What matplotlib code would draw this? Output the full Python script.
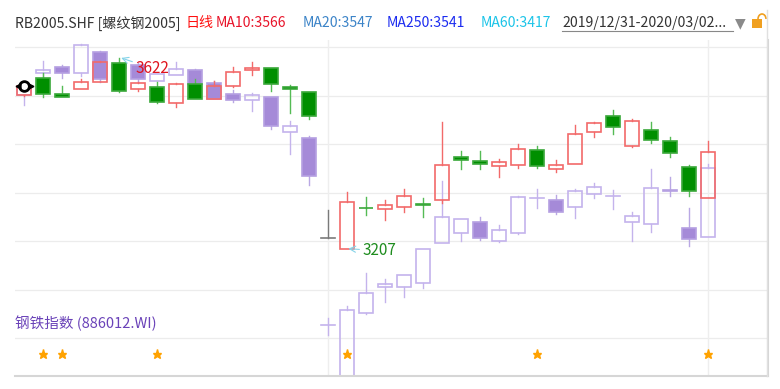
import numpy as np
import matplotlib.pyplot as plt
from matplotlib.patches import Rectangle, Arc
from matplotlib.lines import Line2D

plt.rcParams['font.family'] = ['Noto Sans CJK SC', 'DejaVu Sans']

# RB2005.SHF daily candles, 2019/12/31 - 2020/03/02
rb_open = [3541.5, 3578.5, 3543.0, 3553.9, 3569.1, 3611.8, 3555.2, 3559.5, 3524.1, 3564.8,
           3532.8, 3561.1, 3595.2, 3599.6, 3559.5, 3547.4, 3231.0, 3207.0, 3295.5, 3294.1,
           3297.1, 3304.0, 3313.0, 3405.9, 3397.2, 3387.6, 3389.8, 3421.8, 3381.1, 3391.3,
           3461.0, 3495.8, 3430.5, 3466.0, 3440.7, 3384.2, 3318.0]
rb_high = [3565.4, 3589.4, 3561.7, 3575.6, 3615.5, 3622.0, 3570.4, 3570.4, 3567.6, 3575.6,
           3571.9, 3603.1, 3612.6, 3599.6, 3563.2, 3548.0, 3291.2, 3329.8, 3320.2, 3313.0,
           3336.3, 3318.0, 3483.4, 3419.6, 3419.6, 3401.6, 3434.2, 3430.5, 3400.0, 3476.2,
           3483.4, 3508.8, 3488.6, 3483.4, 3450.7, 3389.2, 3441.4]
rb_low = [3540.0, 3537.8, 3537.0, 3553.9, 3569.1, 3547.0, 3550.8, 3525.0, 3516.0, 3532.8,
          3532.8, 3558.2, 3585.7, 3550.8, 3503.0, 3488.6, 3231.0, 3207.0, 3280.4, 3269.5,
          3287.5, 3276.7, 3306.5, 3379.8, 3381.1, 3362.4, 3383.3, 3383.3, 3373.3, 3391.3,
          3450.7, 3456.0, 3429.0, 3437.7, 3405.9, 3322.4, 3318.0]
rb_close = [3561.1, 3543.0, 3538.0, 3569.1, 3612.6, 3549.0, 3566.9, 3526.2, 3566.1, 3532.8,
            3561.1, 3590.9, 3600.2, 3566.1, 3553.9, 3495.8, 3231.0, 3308.6, 3294.5, 3301.5,
            3321.1, 3303.0, 3388.5, 3400.0, 3392.0, 3395.7, 3423.3, 3386.3, 3389.8, 3456.0,
            3479.9, 3471.8, 3484.2, 3442.9, 3415.9, 3332.6, 3418.1]

# 钢铁指数 (886012.WI) overlay, read on the main chart's vertical scale
idx_open = [3541.5, 3588.7, 3601.8, 3588.7, 3635.0, 3606.8, 3606.8, 3571.3, 3585.0, 3595.9,
            3568.2, 3543.7, 3529.9, 3536.5, 3460.3, 3448.6, 3041.0, 2877.8, 3066.5, 3124.3,
            3123.0, 3131.7, 3218.8, 3241.8, 3264.5, 3224.4, 3240.5, 3316.7, 3312.3, 3297.1,
            3325.4, 3321.1, 3264.5, 3260.1, 3334.1, 3251.4, 3233.1]
idx_high = [3561.1, 3616.1, 3606.8, 3652.0, 3637.2, 3611.1, 3611.1, 3587.2, 3614.0, 3598.1,
            3571.9, 3552.4, 3545.8, 3537.1, 3484.9, 3452.3, 3056.9, 3082.3, 3154.8, 3141.1,
            3149.1, 3207.0, 3354.3, 3271.0, 3276.7, 3258.6, 3321.7, 3336.3, 3323.9, 3336.9,
            3350.6, 3334.8, 3287.5, 3380.5, 3362.4, 3294.9, 3391.3]
idx_low = [3519.7, 3581.3, 3578.5, 3582.8, 3569.1, 3595.9, 3570.4, 3571.3, 3585.0, 3564.0,
           3532.8, 3526.9, 3506.7, 3466.8, 3412.4, 3345.6, 3019.2, 2856.0, 3065.0, 3091.7,
           3102.6, 3120.9, 3218.8, 3223.8, 3226.0, 3221.6, 3239.0, 3294.9, 3282.5, 3274.5,
           3316.7, 3294.1, 3224.4, 3242.7, 3322.4, 3213.6, 3233.1]
idx_close = [3558.0, 3595.9, 3590.0, 3651.0, 3575.6, 3600.2, 3575.6, 3586.5, 3597.4, 3565.5,
             3533.5, 3530.6, 3540.8, 3473.4, 3473.4, 3365.2, 3041.0, 3073.6, 3111.3, 3130.2,
             3149.1, 3207.0, 3275.4, 3271.0, 3229.7, 3247.7, 3318.9, 3316.7, 3287.5, 3333.2,
             3340.6, 3321.1, 3278.8, 3339.8, 3331.9, 3227.5, 3383.3]

star_days = [1, 2, 7, 17, 27, 36]
month_lines = [16, 36]


def candles(ax, o, h, l, c, up_edge, up_wick, dn_face, dn_edge, dn_wick, doji_col, z, w=0.75):
    for i in range(len(o)):
        op, hi, lo, cl = o[i], h[i], l[i], c[i]
        top, bot = max(op, cl), min(op, cl)
        if op == cl:
            ax.plot([i, i], [lo, hi], color=doji_col, lw=1, zorder=z)
            ax.plot([i - w / 2, i + w / 2], [op, op], color=doji_col, lw=1.2, zorder=z)
            continue
        if cl > op:
            wick, face, edge = up_wick, 'none', up_edge
        else:
            wick, face, edge = dn_wick, dn_face, dn_edge
        if hi > top:
            ax.plot([i, i], [top, hi], color=wick, lw=1, zorder=z)
        if lo < bot:
            ax.plot([i, i], [lo, bot], color=wick, lw=1, zorder=z)
        ax.add_patch(Rectangle((i - w / 2, bot), w, top - bot, facecolor=face,
                               edgecolor=edge, lw=1.2, zorder=z + 0.5))


fig = plt.figure(figsize=(7.8, 3.89), dpi=100)
ax = fig.add_axes([15 / 780, 13 / 389, 753 / 780, 336 / 389])
ylo, yhi = 2930, 3661
ax.set_xlim(-0.49, 39.14)
ax.set_ylim(ylo, yhi)

# light grid: 7 horizontal lines, month separators
for k in range(7):
    ax.axhline(ylo + (yhi - ylo) * (38 + 48.5 * k) / 336, color='#ececec', lw=0.9, zorder=0)
for m in month_lines:
    ax.axvline(m, color='#eeeeee', lw=1, zorder=0)

candles(ax, idx_open, idx_high, idx_low, idx_close,
        up_edge='#c4b3ec', up_wick='#c4b3ec', dn_face='#a58ad8', dn_edge='#b5a0e2',
        dn_wick='#b9a8e4', doji_col='#c4b3ec', z=2)
candles(ax, rb_open, rb_high, rb_low, rb_close,
        up_edge='#f26a6a', up_wick='#f26a6a', dn_face='#008f00', dn_edge='#3aa83a',
        dn_wick='#55bb55', doji_col='#7a7a7a', z=4)

ax.annotate('3622', xy=(5.1, rb_high[5]), xytext=(10, -7.5), textcoords='offset points',
            color='#e0141e', fontsize=11, va='center', ha='left', zorder=6,
            arrowprops=dict(arrowstyle='->', color='#85d3e8', lw=0.8, shrinkA=0, shrinkB=0))
ax.annotate('3207', xy=(17.05, rb_low[17]), xytext=(10, -1.5), textcoords='offset points',
            color='#1e8c1e', fontsize=11, va='center', ha='left', zorder=6,
            arrowprops=dict(arrowstyle='->', color='#85d3e8', lw=0.8, shrinkA=0, shrinkB=0))

# selection marker on the first candle
ax.plot(0, rb_close[0], 'o', mfc='white', mec='black', ms=7, mew=2, zorder=7)
ax.plot(-0.33, rb_close[0], '<', color='black', ms=3.5, zorder=7)
ax.plot(0.33, rb_close[0], '>', color='black', ms=3.5, zorder=7)

ax.plot(star_days, [0.065] * len(star_days), ls='', marker='*', color='#ffa200', ms=6.5,
        transform=ax.get_xaxis_transform(), zorder=5)

for s in ['top', 'left']:
    ax.spines[s].set_visible(False)
ax.spines['bottom'].set_color('#d6d6d6')
ax.spines['right'].set_color('#d6d6d6')
ax.spines['bottom'].set_linewidth(1.5)
ax.spines['right'].set_linewidth(1.5)
ax.set_xticks([])
ax.set_yticks([])

fig.text(15 / 780, (389 - 323) / 389, '钢铁指数 (886012.WI)', color='#6a42b8',
         fontsize=10.5, va='center', ha='left')

# header
hy = (389 - 23) / 389
header = [(15, 'RB2005.SHF [螺纹钢2005]', '#333333'),
          (186, '日线', '#ff1010'),
          (216, 'MA10:3566', '#e8142a'),
          (303, 'MA20:3547', '#3c84c8'),
          (387, 'MA250:3541', '#1c2cf0'),
          (481, 'MA60:3417', '#1cc4e8'),
          (562, '2019/12/31-2020/03/02...', '#333333')]
for px, txt, col in header:
    fig.text(px / 780, hy, txt, color=col, fontsize=10.1, va='center', ha='left')
fig.add_artist(Line2D([562 / 780, 733 / 780], [(389 - 31) / 389] * 2, color='#888888', lw=0.8))
fig.text(735 / 780, hy, '▼', color='#8a8a8a', fontsize=10, va='center', ha='left',
         family=['DejaVu Sans'])
fig.add_artist(Rectangle((752 / 780, (389 - 28) / 389), 10 / 780, 9 / 389,
                         facecolor='#f0a020', edgecolor='none', transform=fig.transFigure))
fig.add_artist(Arc((762 / 780, (389 - 19) / 389), 8 / 780, 10 / 389, theta1=0, theta2=180,
                   color='#f0a020', lw=1.2, transform=fig.transFigure))
fig.add_artist(Line2D([767 / 780] * 2, [(389 - 376) / 389, (389 - 10) / 389],
                      color='#e0e0e0', lw=1))

fig.savefig('out.png', dpi=100)
